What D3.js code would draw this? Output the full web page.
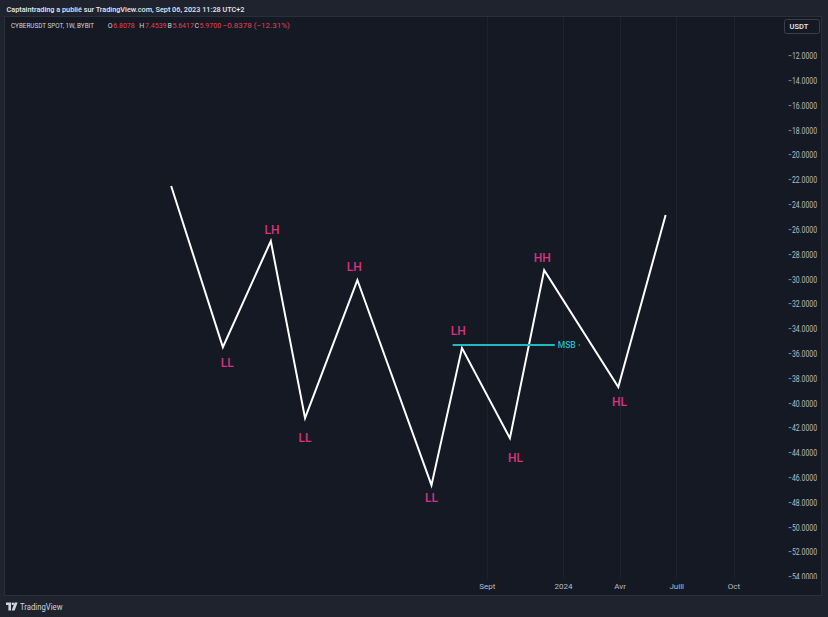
<!DOCTYPE html>
<html><head><meta charset="utf-8">
<script src="https://cdn.jsdelivr.net/npm/d3@7"></script>
<style>
html,body{margin:0;padding:0;background:#1f232e;}
svg{display:block;font-family:Roboto,"Liberation Sans",sans-serif;}
</style>
</head><body><div id="chart"></div>
<script>
// ---- data ----
const swingDates  = ["2022-04-12","2022-07-04","2022-09-19","2022-11-13","2023-02-05","2023-06-04","2023-07-23","2023-10-08","2023-12-02","2024-03-30","2024-06-14"];
const swingPrices = [-22.48,-35.47,-26.92,-41.19,-30.06,-46.6,-35.55,-42.81,-29.26,-38.69,-24.82];

const labelTexts  = ["LL","LH","LL","LH","LL","LH","HL","HH","HL"];
const labelDates  = ["2022-07-11","2022-09-21","2022-11-13","2023-01-31","2023-06-04","2023-07-17","2023-10-17","2023-11-29","2024-04-01"];
const labelPrices = [-36.76,-26.03,-42.78,-28.99,-47.65,-34.15,-44.44,-28.31,-39.93];

const msbDates = ["2023-07-08","2023-12-19"];
const msbPrice = -35.30;
const msbText = "MSB";

const priceTicks = d3.range(-12,-55,-2);
const timeTickDates  = ["2023-09-01","2024-01-01","2024-04-01","2024-07-01","2024-10-01"];
const timeTickLabels = ["Sept","2024","Avr","Juill","Oct"];

const headerText = "Captaintrading a publié sur TradingView.com, Sept 06, 2023 11:28 UTC+2";
const symbolText = "CYBERUSDT SPOT, 1W, BYBIT";
const ohlcKeys   = ["O","H","B","C"];
const ohlcValues = ["6.8078","7.4539","5.6417","5.9700"];
const changeText = "\u22120.8378 (\u221212.31%)";
const currencyText = "USDT";

// ---- layout ----
const W=828,H=617;
const pane = {x:4,y:16,w:818,h:580};
const plotBottom = 579;
const svg = d3.select("#chart").append("svg").attr("width",W).attr("height",H);

svg.append("rect").attr("width",W).attr("height",H).attr("fill","#1f232e");
svg.append("rect").attr("x",pane.x+0.5).attr("y",pane.y+0.5).attr("width",pane.w-1).attr("height",pane.h-1)
  .attr("fill","#151924").attr("stroke","#2a2e39");

const parse = d3.utcParse("%Y-%m-%d");
const x = d3.scaleUtc().domain([parse("2023-09-01"),parse("2024-10-01")]).range([486.9,733.5]);
const y = d3.scaleLinear().domain([-12,-54]).range([56,577]);

svg.append("defs").append("clipPath").attr("id","plotclip")
  .append("rect").attr("x",pane.x).attr("y",pane.y).attr("width",pane.w).attr("height",plotBottom-pane.y);

// vertical grid
svg.append("g").selectAll("line").data(timeTickDates).join("line")
  .attr("x1",d=>Math.round(x(parse(d)))+0.5).attr("x2",d=>Math.round(x(parse(d)))+0.5)
  .attr("y1",pane.y+1).attr("y2",plotBottom)
  .attr("stroke","#1e2230").attr("stroke-width",1);

// price axis
const yAxis = d3.axisRight(y).tickValues(priceTicks).tickFormat(d3.format(".4f")).tickSize(0).tickPadding(0);
const ya = svg.append("g").attr("clip-path","url(#plotclip)").append("g").attr("transform","translate(817,0)").call(yAxis);
ya.select(".domain").remove();
ya.selectAll("text").attr("text-anchor","end").attr("x",0).attr("fill","#b9bcc5")
  .attr("font-size",8.5).attr("font-family","Roboto,'Liberation Sans',sans-serif")
  .attr("textLength",29).attr("lengthAdjust","spacingAndGlyphs");

// time axis
const xAxis = d3.axisBottom(x).tickValues(timeTickDates.map(parse))
  .tickFormat((d,i)=>timeTickLabels[i]).tickSize(0).tickPadding(0);
const xa = svg.append("g").attr("transform","translate(0,583)").call(xAxis);
xa.select(".domain").remove();
xa.selectAll("text").attr("fill","#b8bbc4").attr("font-size",8).attr("font-family","Roboto,'Liberation Sans',sans-serif");

// swing line
const swings = swingDates.map((d,i)=>({date:parse(d),price:swingPrices[i]}));
const line = d3.line().x(d=>x(d.date)).y(d=>y(d.price));
svg.append("path").datum(swings).attr("d",line)
  .attr("fill","none").attr("stroke","#ffffff").attr("stroke-width",2).attr("stroke-linejoin","miter");

// MSB line
const mx1 = x(parse(msbDates[0])), mx2 = x(parse(msbDates[1])), my = y(msbPrice);
svg.append("line").attr("x1",mx1).attr("x2",mx2).attr("y1",my).attr("y2",my)
  .attr("stroke","#22b8c6").attr("stroke-width",2);
svg.append("text").attr("x",mx2+3).attr("y",my).attr("dominant-baseline","central")
  .attr("fill","#22b8c6").attr("font-size",8.5).attr("font-weight",500).text(msbText);
svg.append("circle").attr("cx",mx2+24.5).attr("cy",my).attr("r",0.8).attr("fill","#22b8c6");

// swing labels
svg.append("g").selectAll("text").data(labelTexts).join("text")
  .attr("x",(d,i)=>x(parse(labelDates[i]))).attr("y",(d,i)=>y(labelPrices[i]))
  .attr("text-anchor","middle").attr("dominant-baseline","central")
  .attr("fill","#d6347f").attr("font-size",12).attr("font-weight",500).text(d=>d);

// header
svg.append("text").attr("x",6.5).attr("y",12).attr("fill","#e6e8ee").attr("font-size",8)
  .attr("font-weight",500).attr("textLength",238).attr("lengthAdjust","spacingAndGlyphs").text(headerText);

// legend row
const legendY = 28.2;
const lg = svg.append("g").attr("font-size",7);
lg.append("text").attr("x",11).attr("y",legendY).attr("fill","#d1d4dc").attr("font-size",7.5)
  .attr("textLength",83).attr("lengthAdjust","spacingAndGlyphs").text(symbolText);
const keyX = [107.8,139.3,167.4,194.4];
const valX = [113.2,145,172.4,199.6];
ohlcKeys.forEach((k,i)=>{
  lg.append("text").attr("x",keyX[i]).attr("y",legendY).attr("fill","#d1d4dc").text(k);
  lg.append("text").attr("x",valX[i]).attr("y",legendY).attr("fill","#e0434f").text(ohlcValues[i]);
});
lg.append("text").attr("x",222.6).attr("y",legendY).attr("fill","#e0434f").attr("font-size",8).text(changeText);

// currency box
svg.append("rect").attr("x",784.5).attr("y",19.5).attr("width",35).attr("height",14).attr("rx",2)
  .attr("fill","#151924").attr("stroke","#3b3f4a");
svg.append("text").attr("x",789.5).attr("y",26.7).attr("dominant-baseline","central")
  .attr("fill","#e6e8ee").attr("font-size",7.5).attr("font-weight",500).text(currencyText);

// footer logo
const logo = svg.append("g").attr("transform","translate(6,602.5)").attr("fill","#d1d4dc");
logo.append("path").attr("d","M0,0 H5 V8 H2.4 V2.6 H0 Z");
logo.append("circle").attr("cx",6.8).attr("cy",1.3).attr("r",1.3);
logo.append("path").attr("d","M8.6,0 H11.6 L8.6,8 H5.6 Z");
svg.append("text").attr("x",20).attr("y",609.5).attr("fill","#d1d4dc").attr("font-size",9)
  .attr("textLength",42.5).attr("lengthAdjust","spacingAndGlyphs").text("TradingView");
</script>
</body></html>
